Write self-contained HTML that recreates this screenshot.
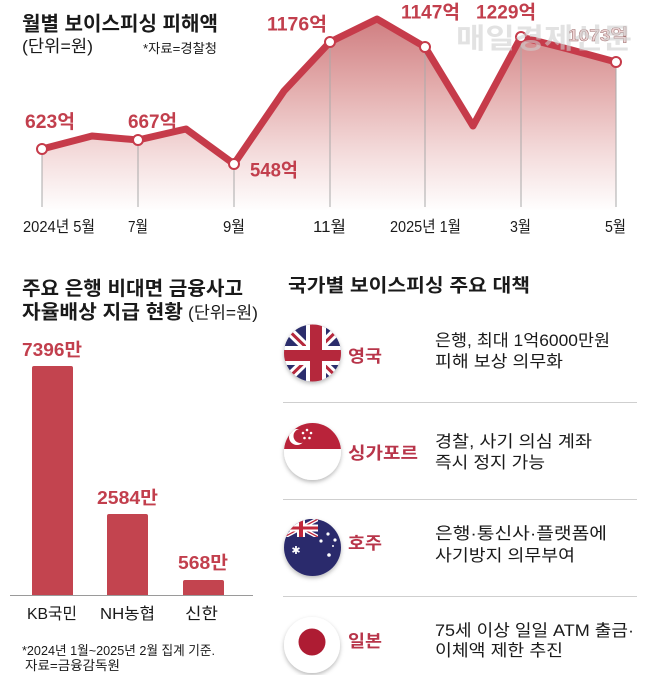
<!DOCTYPE html>
<html><head><meta charset="utf-8">
<style>
html,body{margin:0;padding:0;background:#fff;}
svg{display:block;}
text{font-family:"Liberation Sans","Noto Sans CJK KR",sans-serif;}
.b{font-weight:700;}
.red{fill:#c23f4d;}
.blk{fill:#1a1a1a;}
</style></head>
<body>
<svg width="658" height="675" viewBox="0 0 658 675" xmlns="http://www.w3.org/2000/svg">
<defs>
<linearGradient id="fillg" gradientUnits="userSpaceOnUse" x1="0" y1="18" x2="0" y2="212">
<stop offset="0" stop-color="#cf7d80"/>
<stop offset="0.35" stop-color="#e3acac"/>
<stop offset="0.7" stop-color="#f4dcdc"/>
<stop offset="1" stop-color="#ffffff"/>
</linearGradient>
<clipPath id="c1"><circle cx="312.5" cy="353" r="28.5"/></clipPath>
<clipPath id="c2"><circle cx="312.5" cy="451.5" r="28.5"/></clipPath>
<clipPath id="c3"><circle cx="312.5" cy="547.5" r="28.5"/></clipPath>
<clipPath id="c3a"><rect x="284" y="519" width="34" height="18"/></clipPath>
<filter id="sh" x="-30%" y="-30%" width="160%" height="160%">
<feDropShadow dx="0" dy="2" stdDeviation="2.2" flood-color="#000" flood-opacity="0.28"/>
</filter>
</defs>

<!-- ===== Line chart ===== -->
<text x="22" y="30.5" class="b blk" font-size="20" textLength="196" lengthAdjust="spacingAndGlyphs">월별 보이스피싱 피해액</text>
<text x="22" y="52" class="blk" font-size="17" textLength="71" lengthAdjust="spacingAndGlyphs">(단위=원)</text>
<text x="143" y="53" class="blk" font-size="13" textLength="74" lengthAdjust="spacingAndGlyphs">*자료=경찰청</text>

<polygon fill="url(#fillg)" points="42,149 92,136 138,140 186,129 234,164 284,91 330,42 377,19 425,47 473,126 521,37 568,49 616,62 616,210 42,210"/>

<g stroke="#a9a9a9" stroke-width="1">
<line x1="42" y1="149" x2="42" y2="207"/>
<line x1="138" y1="140" x2="138" y2="207"/>
<line x1="234" y1="164" x2="234" y2="207"/>
<line x1="330" y1="42" x2="330" y2="207"/>
<line x1="425" y1="47" x2="425" y2="207"/>
<line x1="521" y1="37" x2="521" y2="207"/>
<line x1="616" y1="62" x2="616" y2="207"/>
</g>

<polyline fill="none" stroke="#c63b4a" stroke-width="7" stroke-linejoin="round" stroke-linecap="round" points="42,149 92,136 138,140 186,129 234,164 284,91 330,42 377,19 425,47 473,126 521,37 568,49 616,62"/>
<g fill="#fff" stroke="#c63b4a" stroke-width="2">
<circle cx="42" cy="149" r="5"/>
<circle cx="138" cy="140" r="5"/>
<circle cx="234" cy="164" r="5"/>
<circle cx="330" cy="42" r="5"/>
<circle cx="425" cy="47" r="5"/>
<circle cx="521" cy="37" r="5"/>
<circle cx="616" cy="62" r="5"/>
</g>

<g class="b red" font-size="19">
<text x="25" y="128" textLength="50" lengthAdjust="spacingAndGlyphs">623억</text>
<text x="128" y="128" textLength="49" lengthAdjust="spacingAndGlyphs">667억</text>
<text x="250" y="176.5" textLength="48" lengthAdjust="spacingAndGlyphs">548억</text>
<text x="267" y="30.5" textLength="60" lengthAdjust="spacingAndGlyphs">1176억</text>
<text x="401" y="18.5" textLength="59" lengthAdjust="spacingAndGlyphs">1147억</text>
<text x="476" y="18.5" textLength="60" lengthAdjust="spacingAndGlyphs">1229억</text>
</g>
<text x="568" y="41" class="b" font-size="17" fill="#efd6d6" stroke="#9a6a6a" stroke-width="0.5" textLength="60" lengthAdjust="spacingAndGlyphs">1073억</text>
<text x="456" y="48" class="b" font-size="28" fill="#cfcfcf" fill-opacity="0.6" textLength="176" lengthAdjust="spacingAndGlyphs">매일경제신문</text>

<g class="blk" font-size="16">
<text x="23" y="232" textLength="72" lengthAdjust="spacingAndGlyphs">2024년 5월</text>
<text x="128" y="232" textLength="20" lengthAdjust="spacingAndGlyphs">7월</text>
<text x="223" y="232" textLength="22" lengthAdjust="spacingAndGlyphs">9월</text>
<text x="313" y="232" textLength="33" lengthAdjust="spacingAndGlyphs">11월</text>
<text x="390" y="232" textLength="71" lengthAdjust="spacingAndGlyphs">2025년 1월</text>
<text x="510" y="232" textLength="21" lengthAdjust="spacingAndGlyphs">3월</text>
<text x="605" y="232" textLength="21" lengthAdjust="spacingAndGlyphs">5월</text>
</g>

<!-- ===== Bar chart ===== -->
<text x="22" y="295" class="b blk" font-size="19.5" textLength="221" lengthAdjust="spacingAndGlyphs">주요 은행 비대면 금융사고</text>
<text x="22" y="318.5" class="b blk" font-size="19.5" textLength="161" lengthAdjust="spacingAndGlyphs">자율배상 지급 현황</text>
<text x="188" y="318.5" class="blk" font-size="17" textLength="70" lengthAdjust="spacingAndGlyphs">(단위=원)</text>

<g fill="#c3444f">
<path d="M32,368 q0,-2 2,-2 h37 q2,0 2,2 V595 H32z"/>
<path d="M107,516 q0,-2 2,-2 h37 q2,0 2,2 V595 H107z"/>
<path d="M183,582 q0,-2 2,-2 h37 q2,0 2,2 V595 H183z"/>
</g>
<line x1="10" y1="595.5" x2="253" y2="595.5" stroke="#9a9a9a" stroke-width="1"/>
<g class="b red" font-size="18">
<text x="22" y="356" textLength="60" lengthAdjust="spacingAndGlyphs">7396만</text>
<text x="97" y="504" textLength="61" lengthAdjust="spacingAndGlyphs">2584만</text>
<text x="178" y="569" textLength="50" lengthAdjust="spacingAndGlyphs">568만</text>
</g>
<g class="blk" font-size="16">
<text x="27" y="619" textLength="50" lengthAdjust="spacingAndGlyphs">KB국민</text>
<text x="100" y="619" textLength="55" lengthAdjust="spacingAndGlyphs">NH농협</text>
<text x="185" y="619" textLength="33" lengthAdjust="spacingAndGlyphs">신한</text>
</g>
<text x="22" y="655" class="blk" font-size="13" textLength="193" lengthAdjust="spacingAndGlyphs">*2024년 1월~2025년 2월 집계 기준.</text>
<text x="25" y="670" class="blk" font-size="13" textLength="95" lengthAdjust="spacingAndGlyphs">자료=금융감독원</text>

<!-- ===== Right panel ===== -->
<text x="288" y="292" class="b blk" font-size="18.5" textLength="242" lengthAdjust="spacingAndGlyphs">국가별 보이스피싱 주요 대책</text>

<g stroke="#cfcfcf" stroke-width="1">
<line x1="283" y1="402.5" x2="637" y2="402.5"/>
<line x1="283" y1="499.5" x2="637" y2="499.5"/>
<line x1="283" y1="596.5" x2="637" y2="596.5"/>
</g>

<!-- UK -->
<circle cx="312.5" cy="353" r="28.5" fill="#fff" filter="url(#sh)"/>
<g clip-path="url(#c1)">
<rect x="280" y="320" width="66" height="66" fill="#2b2d6c"/>
<path d="M280,322 L346,386 M346,322 L280,386" stroke="#fff" stroke-width="9"/>
<path d="M280,322 L346,386 M346,322 L280,386" stroke="#b5283c" stroke-width="3"/>
<rect x="306" y="320" width="20" height="66" fill="#fff"/>
<rect x="280" y="346" width="66" height="19" fill="#fff"/>
<rect x="310" y="320" width="12" height="66" fill="#b5283c"/>
<rect x="280" y="350" width="66" height="11" fill="#b5283c"/>
</g>
<!-- Singapore -->
<circle cx="312.5" cy="451.5" r="28.5" fill="#fff" filter="url(#sh)"/>
<g clip-path="url(#c2)">
<rect x="280" y="420" width="66" height="29" fill="#b9233a"/>
<circle cx="297" cy="437" r="8" fill="#fff"/>
<circle cx="300.5" cy="436" r="7" fill="#b9233a"/>
<g fill="#fff">
<circle cx="307" cy="430" r="1.3"/>
<circle cx="303" cy="433" r="1.3"/>
<circle cx="311" cy="433" r="1.3"/>
<circle cx="304.5" cy="438" r="1.3"/>
<circle cx="309.5" cy="438" r="1.3"/>
</g>
</g>
<!-- Australia -->
<circle cx="312.5" cy="547.5" r="28.5" fill="#2b2a6c" filter="url(#sh)"/>
<g clip-path="url(#c3)">
<g clip-path="url(#c3a)">
<rect x="284" y="519" width="34" height="18" fill="#2b2a6c"/>
<path d="M284,519 L318,537 M318,519 L284,537" stroke="#fff" stroke-width="4"/>
<path d="M284,519 L318,537 M318,519 L284,537" stroke="#c1283c" stroke-width="1.3"/>
<rect x="297" y="519" width="8" height="18" fill="#fff"/>
<rect x="284" y="524.5" width="34" height="7" fill="#fff"/>
<rect x="299" y="519" width="4" height="18" fill="#c1283c"/>
<rect x="284" y="526.5" width="34" height="3" fill="#c1283c"/>
</g>
<text x="296" y="554" font-size="11" fill="#fff" text-anchor="middle">✱</text>
<g fill="#fff">
<circle cx="328" cy="534" r="1.6"/>
<circle cx="321" cy="541" r="1.6"/>
<circle cx="335" cy="540" r="1.6"/>
<circle cx="329" cy="555" r="1.8"/>
<circle cx="333" cy="546" r="1"/>
</g>
</g>
<!-- Japan -->
<circle cx="312" cy="645" r="28" fill="#fff" filter="url(#sh)"/>
<circle cx="312" cy="642" r="13.5" fill="#ae1c33"/>

<g class="b" font-size="17" fill="#b8354a">
<text x="348" y="362" textLength="34" lengthAdjust="spacingAndGlyphs">영국</text>
<text x="348" y="459" textLength="70" lengthAdjust="spacingAndGlyphs">싱가포르</text>
<text x="348" y="549" textLength="34" lengthAdjust="spacingAndGlyphs">호주</text>
<text x="348" y="647" textLength="34" lengthAdjust="spacingAndGlyphs">일본</text>
</g>

<g class="blk" font-size="16.5">
<text x="435" y="346" textLength="175" lengthAdjust="spacingAndGlyphs">은행, 최대 1억6000만원</text>
<text x="435" y="367" textLength="128" lengthAdjust="spacingAndGlyphs">피해 보상 의무화</text>
<text x="435" y="447" textLength="157" lengthAdjust="spacingAndGlyphs">경찰, 사기 의심 계좌</text>
<text x="435" y="468" textLength="110" lengthAdjust="spacingAndGlyphs">즉시 정지 가능</text>
<text x="435" y="539" textLength="172" lengthAdjust="spacingAndGlyphs">은행·통신사·플랫폼에</text>
<text x="435" y="561" textLength="140" lengthAdjust="spacingAndGlyphs">사기방지 의무부여</text>
<text x="435" y="636" textLength="199" lengthAdjust="spacingAndGlyphs">75세 이상 일일 ATM 출금·</text>
<text x="435" y="656" textLength="128" lengthAdjust="spacingAndGlyphs">이체액 제한 추진</text>
</g>
</svg>
</body></html>
